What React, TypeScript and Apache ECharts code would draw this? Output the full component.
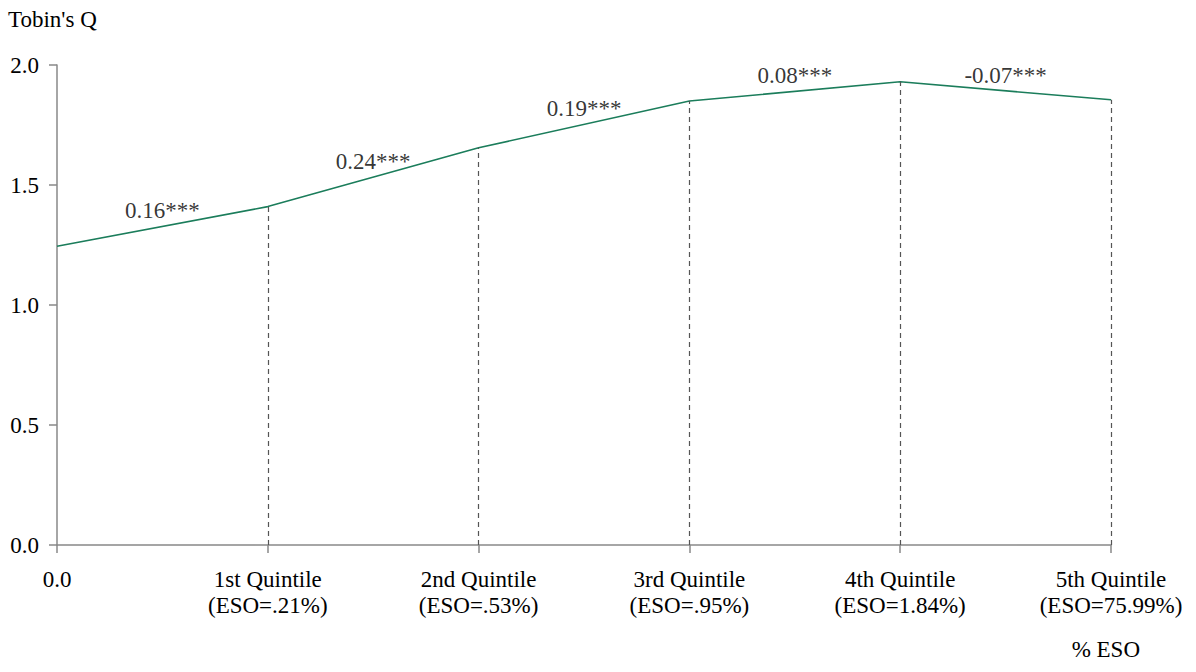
import React, { useEffect, useRef } from "react";
import * as echarts from "echarts";

const categories = [
  "0.0",
  "1st Quintile\n(ESO=.21%)",
  "2nd Quintile\n(ESO=.53%)",
  "3rd Quintile\n(ESO=.95%)",
  "4th Quintile\n(ESO=1.84%)",
  "5th Quintile\n(ESO=75.99%)",
];
const tobinsQ = [1.245, 1.41, 1.655, 1.85, 1.93, 1.855];
const segmentLabels = ["0.16***", "0.24***", "0.19***", "0.08***", "-0.07***"];
const yTicks = [0, 0.5, 1.0, 1.5, 2.0];

const FONT = "Liberation Serif";
const FS = 23;

export default function App() {
  const ref = useRef<HTMLDivElement>(null);
  useEffect(() => {
    if (!ref.current) return;
    const chart = echarts.init(ref.current, undefined, { renderer: "svg" });
    const lineData = tobinsQ.map((v, i) => [i, v]);
    const midData = segmentLabels.map((t, i) => ({
      value: [i + 0.5, (tobinsQ[i] + tobinsQ[i + 1]) / 2],
      labelText: t,
    }));
    const dropLines = tobinsQ
      .map((v, i) => [{ coord: [i, 0] }, { coord: [i, v] }])
      .slice(1);
    chart.setOption({
      animation: false,
      backgroundColor: "#ffffff",
      textStyle: { fontFamily: FONT },
      grid: { left: 57, right: 85, top: 65, bottom: 127 },
      xAxis: {
        type: "value",
        min: 0,
        max: categories.length - 1,
        interval: 1,
        splitLine: { show: false },
        axisLine: { show: true, lineStyle: { color: "#888888", width: 1.5 } },
        axisTick: { show: true, length: 8, lineStyle: { color: "#888888", width: 1.5 } },
        axisLabel: {
          margin: 21,
          fontFamily: FONT,
          fontSize: FS,
          lineHeight: 26,
          color: "#000000",
          formatter: (v: number) => categories[Math.round(v)] ?? "",
        },
      },
      yAxis: {
        type: "value",
        min: yTicks[0],
        max: yTicks[yTicks.length - 1],
        interval: 0.5,
        splitLine: { show: false },
        axisLine: { show: true, lineStyle: { color: "#888888", width: 1.5 } },
        axisTick: { show: true, length: 8, lineStyle: { color: "#888888", width: 1.5 } },
        axisLabel: {
          margin: 18,
          fontFamily: FONT,
          fontSize: FS,
          color: "#000000",
          formatter: (v: number) => v.toFixed(1),
        },
      },
      graphic: [
        {
          type: "text",
          left: 8,
          top: 8,
          style: { text: "Tobin's Q", fontFamily: FONT, fontSize: FS, fill: "#000000" },
        },
        {
          type: "text",
          right: 56,
          top: 638,
          style: { text: "% ESO", fontFamily: FONT, fontSize: FS, fill: "#000000" },
        },
      ],
      series: [
        {
          type: "line",
          data: lineData,
          symbol: "none",
          lineStyle: { color: "#1b7d5b", width: 1.6 },
          markLine: {
            symbol: "none",
            silent: true,
            label: { show: false },
            lineStyle: { color: "#555555", type: [5, 4], width: 1.2 },
            data: dropLines,
          },
          z: 3,
        },
        {
          type: "scatter",
          data: midData,
          symbolSize: 0,
          label: {
            show: true,
            position: "top",
            distance: 4,
            fontFamily: FONT,
            fontSize: FS,
            color: "#000000",
            formatter: (p: any) => p.data.labelText,
          },
          z: 4,
        },
      ],
    });
    return () => chart.dispose();
  }, []);
  return (
    <div
      ref={ref}
      style={{ position: "absolute", left: 0, top: 0, width: 1196, height: 672 }}
    />
  );
}
